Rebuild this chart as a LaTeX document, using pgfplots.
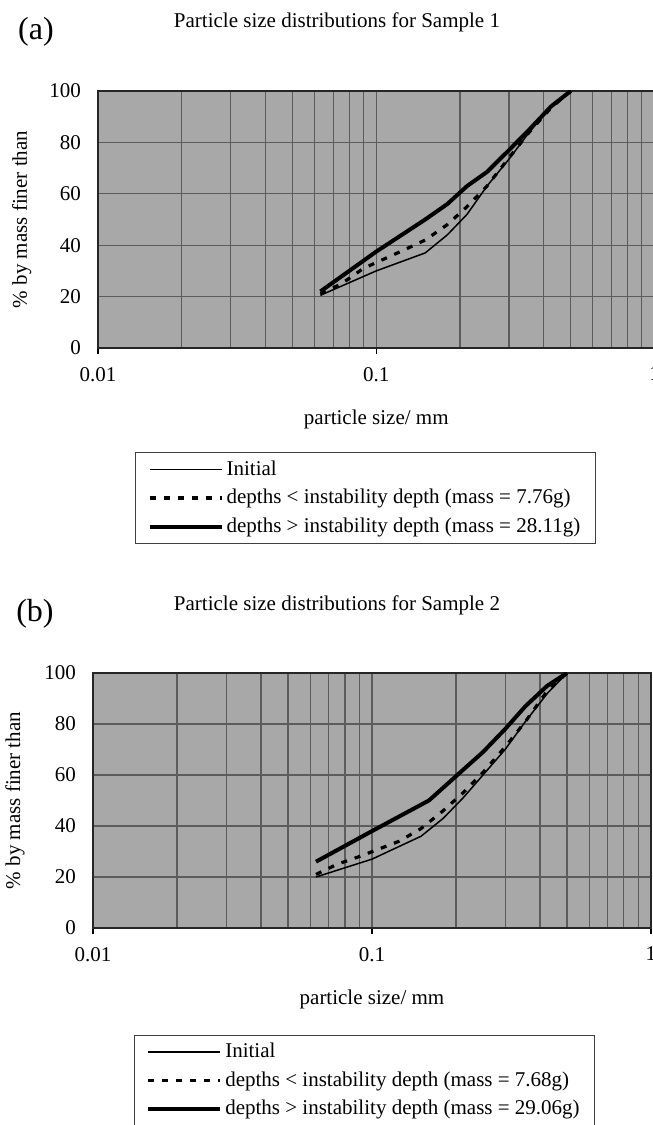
\documentclass[border=0pt]{standalone}
\usepackage{fontspec}
\setmainfont{Liberation Serif}
\usepackage{pgfplots}
\pgfplotsset{compat=1.18}
\definecolor{plotbg}{RGB}{168,168,168}
\definecolor{gridc}{RGB}{92,92,92}
\newcommand{\txt}{\fontsize{10.5}{12}\selectfont}
\pgfplotsset{
  psd/.style={
    xmin=0.01, xmax=1, ymin=0, ymax=100,
    scale only axis, anchor=south west,
    axis background/.style={fill=plotbg},
    axis line style={draw=black!85, line width=0.9pt},
    xtick={0.01,0.1,1}, xticklabels={0.01,0.1,1},
    minor xtick={0.02,0.03,0.04,0.05,0.06,0.07,0.08,0.09,0.2,0.3,0.4,0.5,0.6,0.7,0.8,0.9},
    ytick={0,20,40,60,80,100},
    grid=both,
    major grid style={draw=gridc, line width=0.55pt},
    minor grid style={draw=gridc, line width=0.55pt},
    tick align=outside, major tick length=3pt, minor tick length=0pt,
    xtick style={draw=black, line width=0.6pt},
    ytick style={draw=none},
    xtick pos=left,
    ytick pos=left,
    tick label style={font=\txt},
    /pgf/number format/assume math mode=true,
    xticklabel style={yshift=-3pt},
    yticklabel style={xshift=-2pt},
    label style={font=\txt},
    xlabel={particle size/ mm},
    xlabel style={at={(axis description cs:0.5,0)}, anchor=center, yshift=-35.5pt},
    ylabel={\% by mass finer than},
    ylabel style={at={(axis description cs:-0.137,0.5)}, anchor=center},
    legend cell align=left,
    legend style={anchor=north west, draw=black!75, line width=0.6pt, fill=white,
      font=\txt, inner xsep=6pt, inner ysep=3pt, row sep=3.5pt,
      nodes={inner ysep=1pt, inner xsep=1.5pt}},
    legend image code/.code={\draw[##1] (0pt,0pt) -- (36pt,0pt);},
  },
  initialS/.style={black, line width=0.75pt, line join=round},
  belowS/.style={black, line width=1.6pt, dash pattern=on 3pt off 4pt, line join=round},
  aboveS/.style={black, line width=2pt, line join=round},
}
\begin{document}
\begin{tikzpicture}
\useasboundingbox (0,0) rectangle (326.5pt,562.5pt);
% ---------- (a) ----------
\begin{axis}[xmode=log, psd, at={(49pt,388.5pt)}, width=278.25pt, height=128.5pt,
  legend style={at={(axis description cs:0.0665,-0.4047)}}]
\addplot[initialS] coordinates {
 (0.063,20.5) (0.1,30) (0.15,37) (0.18,44) (0.212,52) (0.25,63) (0.3,73.5) (0.355,84) (0.425,94) (0.5,100)};
\addlegendentry{Initial}
\addplot[belowS] coordinates {
 (0.063,21) (0.075,25) (0.09,31) (0.125,38) (0.15,42) (0.18,48) (0.212,55) (0.25,63) (0.3,74) (0.355,84) (0.425,93.5) (0.5,100)};
\addlegendentry{depths < instability depth (mass = 7.76g)}
\addplot[aboveS] coordinates {
 (0.063,22) (0.1,37.5) (0.15,50) (0.18,56) (0.212,63) (0.25,68.5) (0.3,77) (0.355,85) (0.425,94) (0.5,100)};
\addlegendentry{depths > instability depth (mass = 28.11g)}
\end{axis}
% ---------- (b) ----------
\begin{axis}[xmode=log, psd, at={(46.5pt,98.5pt)}, width=279pt, height=127.5pt,
  ylabel style={at={(axis description cs:-0.14,0.5)}},
  legend style={at={(axis description cs:0.073,-0.418)}}]
\addplot[initialS] coordinates {
 (0.063,20) (0.1,27) (0.15,36) (0.18,43) (0.212,51) (0.25,60) (0.3,70) (0.355,81) (0.425,92) (0.5,100)};
\addlegendentry{Initial}
\addplot[belowS] coordinates {
 (0.063,21) (0.075,25) (0.09,28) (0.125,34) (0.15,39) (0.18,46) (0.212,53) (0.25,61) (0.3,71) (0.355,81) (0.425,93) (0.5,100)};
\addlegendentry{depths < instability depth (mass = 7.68g)}
\addplot[aboveS] coordinates {
 (0.063,26) (0.1,38) (0.16,50) (0.212,62) (0.25,69) (0.3,78) (0.355,87) (0.425,95) (0.5,100)};
\addlegendentry{depths > instability depth (mass = 29.06g)}
\end{axis}
\node[font=\fontsize{16}{19}\selectfont] at (18pt,546.5pt) {(a)};
\node[font=\txt] at (168.5pt,551.5pt) {Particle size distributions for Sample 1};
\node[font=\fontsize{16}{19}\selectfont] at (17.5pt,255.5pt) {(b)};
\node[font=\txt] at (168.5pt,260pt) {Particle size distributions for Sample 2};
\end{tikzpicture}
\end{document}
